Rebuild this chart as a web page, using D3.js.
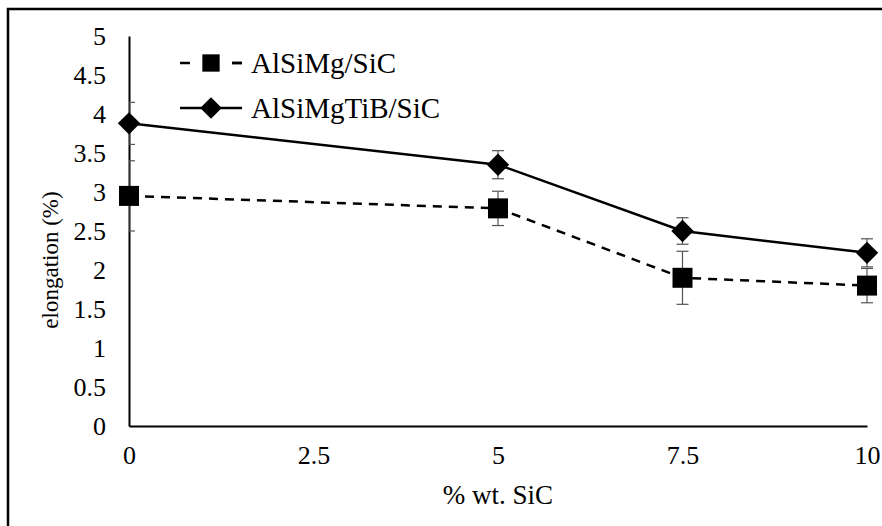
<html>
<head>
  <script src="https://d3js.org/d3.v7.min.js"></script>
  <style>
    body { margin: 0; background: #fff; }
    svg text { font-family: "Liberation Serif", "Times New Roman", "DejaVu Serif", serif !important; fill: #000; }
  </style>
</head>
<body>
<div id="chart"></div>
<script>
  // data
  const xTicks = [0, 2.5, 5, 7.5, 10];
  const yTicks = [0, 0.5, 1, 1.5, 2, 2.5, 3, 3.5, 4, 4.5, 5];
  const sic = [0, 5, 7.5, 10];
  const alsimg = [2.95, 2.79, 1.90, 1.80];
  const alsimgErr = [0.45, 0.22, 0.34, 0.22];
  const tib = [3.88, 3.35, 2.50, 2.22];
  const tibErr = [0.27, 0.18, 0.17, 0.18];
  const seriesNames = ["AlSiMg/SiC", "AlSiMgTiB/SiC"];

  const width = 882, height = 526;
  const svg = d3.select("#chart").append("svg").attr("width", width).attr("height", height);

  // outer frame
  svg.append("rect").attr("x", 8).attr("y", 9).attr("width", 900).attr("height", 540)
     .attr("fill", "none").attr("stroke", "#000").attr("stroke-width", 2.5);

  const xScale = d3.scaleLinear().domain([0, 10]).range([129, 867]);
  const yScale = d3.scaleLinear().domain([0, 5]).range([426, 36]);

  // clip for error bars
  svg.append("clipPath").attr("id", "plot")
     .append("rect").attr("x", 129).attr("y", 0).attr("width", 760).attr("height", 430);

  //xAxis
  let bottomAxis = d3.axisBottom(xScale).tickValues(xTicks).tickSize(0).tickPadding(20).tickFormat(d3.format("~g"));
  let gx = svg.append("g").attr("transform", "translate(0," + yScale(0) + ")").call(bottomAxis);
  gx.attr("font-size", 26).attr("font-family", null);
  gx.select(".domain").attr("stroke", "#000").attr("stroke-width", 2);

  //yAxis
  let leftAxis = d3.axisLeft(yScale).tickValues(yTicks).tickSize(0).tickPadding(23).tickFormat(d3.format("~g"));
  let gy = svg.append("g").attr("transform", "translate(" + xScale(0) + ",0)").call(leftAxis);
  gy.attr("font-size", 26).attr("font-family", null);
  gy.select(".domain").attr("stroke", "#000").attr("stroke-width", 2);

  //axis titles
  svg.append("text").attr("x", 498).attr("y", 504).attr("text-anchor", "middle")
     .attr("font-size", 27).text("% wt. SiC");
  svg.append("text").attr("transform", "translate(58,260) rotate(-90)").attr("text-anchor", "middle")
     .attr("font-size", 23).text("elongation (%)");

  const line = d3.line().x(d => xScale(d[0])).y(d => yScale(d[1]));
  const series = [
    { vals: alsimg, err: alsimgErr, dash: "9,7", rot: 0, size: 400, lsize: 300 },
    { vals: tib, err: tibErr, dash: null, rot: 45, size: 250, lsize: 230 }
  ];

  // error bars
  const eb = svg.append("g").attr("clip-path", "url(#plot)");
  series.forEach(s => {
    sic.forEach((x, i) => {
      const cx = xScale(x), y0 = yScale(s.vals[i] - s.err[i]), y1 = yScale(s.vals[i] + s.err[i]);
      eb.append("line").attr("x1", cx).attr("x2", cx).attr("y1", y0).attr("y2", y1)
        .attr("stroke", "#555").attr("stroke-width", 1.2);
      [y0, y1].forEach(y => eb.append("line").attr("x1", cx - 6).attr("x2", cx + 6)
        .attr("y1", y).attr("y2", y).attr("stroke", "#555").attr("stroke-width", 1.2));
    });
  });

  // lines and markers
  series.forEach(s => {
    svg.append("path").datum(sic.map((x, i) => [x, s.vals[i]])).attr("d", line)
       .attr("fill", "none").attr("stroke", "#000").attr("stroke-width", 2.5)
       .attr("stroke-dasharray", s.dash);
    svg.selectAll(null).data(sic.map((x, i) => [x, s.vals[i]])).enter().append("path")
       .attr("transform", d => "translate(" + xScale(d[0]) + "," + yScale(d[1]) + ") rotate(" + s.rot + ")")
       .attr("d", d3.symbol().type(d3.symbolSquare).size(s.size))
       .attr("fill", "#000");
  });

  //legend
  series.forEach((s, i) => {
    const ly = 63 + i * 45;
    const g = svg.append("g");
    g.append("line").attr("x1", 180).attr("x2", 242).attr("y1", ly).attr("y2", ly)
     .attr("stroke", "#000").attr("stroke-width", 2.5).attr("stroke-dasharray", s.dash ? "10,42" : null);
    g.append("line").attr("x1", 232).attr("x2", 242).attr("y1", ly).attr("y2", ly)
     .attr("stroke", s.dash ? "#000" : "none").attr("stroke-width", 2.5);
    g.append("path").attr("transform", "translate(211," + ly + ") rotate(" + s.rot + ")")
     .attr("d", d3.symbol().type(d3.symbolSquare).size(s.lsize)).attr("fill", "#000");
    g.append("text").attr("x", 251).attr("y", ly + 10).attr("font-size", 29).text(seriesNames[i]);
  });
</script>
</body>
</html>
